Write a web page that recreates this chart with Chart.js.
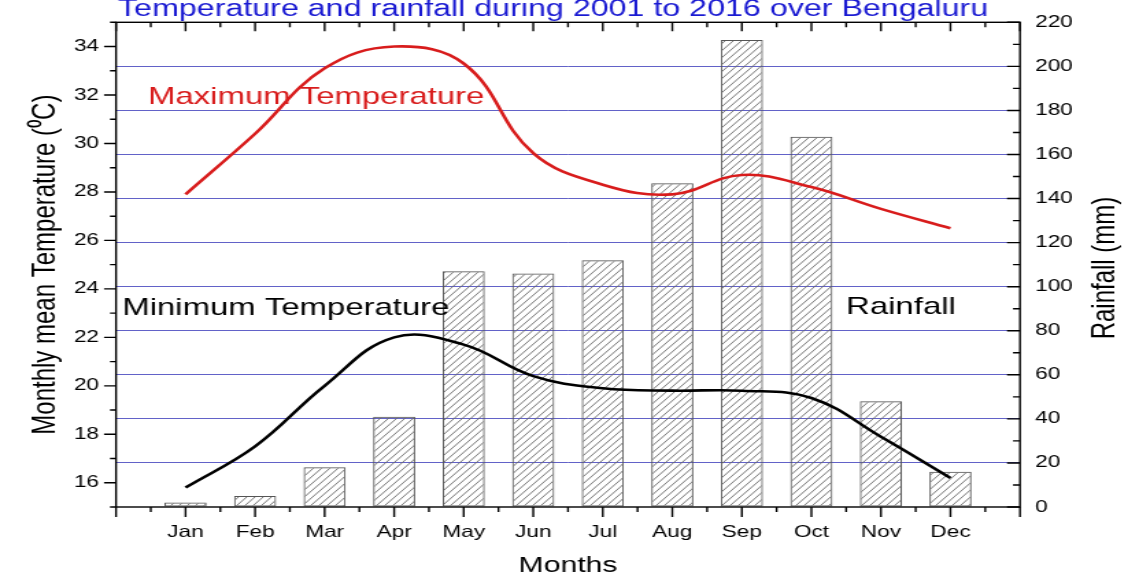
<!DOCTYPE html>
<html>
<head>
<meta charset="utf-8">
<script src="https://cdn.jsdelivr.net/npm/chart.js@4.4.1/dist/chart.umd.min.js"></script>
<style>
  html, body { margin: 0; padding: 0; background: #fff; }
</style>
</head>
<body>
<!-- the source figure is stretched sideways, so the chart is drawn narrow and CSS widens it -->
<canvas id="chart" width="823" height="579" style="width:1128px;height:579px;display:block"></canvas>
<script>
// monthly means 2001-2016
var months = ['Jan', 'Feb', 'Mar', 'Apr', 'May', 'Jun', 'Jul', 'Aug', 'Sep', 'Oct', 'Nov', 'Dec'];
var maxTemp = [27.9, 30.4, 33.1, 34.0, 33.3, 29.6, 28.3, 27.9, 28.7, 28.2, 27.3, 26.5];
var minTemp = [15.8, 17.5, 20.0, 22.0, 21.7, 20.4, 19.9, 19.8, 19.8, 19.5, 17.9, 16.2];
var rainfall = [2, 5, 18, 41, 107, 106, 112, 147, 212, 168, 48, 16];

var tempLabels = [16, 18, 20, 22, 24, 26, 28, 30, 32, 34];
var rainLabels = [0, 20, 40, 60, 80, 100, 120, 140, 160, 180, 200, 220];

var SX = 1128 / 823;   // horizontal stretch
var FONT = '"Liberation Sans", Arial, sans-serif';
var gridColor = 'rgba(70, 70, 190, 0.85)';

Chart.defaults.font.family = FONT;
Chart.defaults.color = '#000';

// diagonal hatch for the rainfall bars
function hatch() {
  var c = document.createElement('canvas');
  c.width = 6; c.height = 7;
  var g = c.getContext('2d');
  g.strokeStyle = '#6a6a6a';
  g.lineWidth = 0.9;
  g.beginPath();
  for (var k = -1; k <= 1; k++) {
    g.moveTo(k * 6, 7);
    g.lineTo(k * 6 + 6, 0);
  }
  g.stroke();
  return g.createPattern(c, 'repeat');
}

function pts(arr) {
  return arr.map(function(v, i) { return {x: i + 1, y: v}; });
}

// frame, ticks (major + minor) and the free texts
var frame = {
  id: 'frame',
  afterDatasetsDraw: function(chart) {
    var ctx = chart.ctx, a = chart.chartArea;
    var x = chart.scales.x, y = chart.scales.y, y2 = chart.scales.y2;
    var v, p;
    ctx.save();
    ctx.strokeStyle = '#000';
    ctx.lineWidth = 1.4;
    ctx.strokeRect(a.left, a.top, a.right - a.left, a.bottom - a.top);
    ctx.beginPath();
    for (v = 0; v <= 13; v += 0.5) {
      p = x.getPixelForValue(v);
      var big = v % 1 === 0;
      ctx.moveTo(p, a.bottom); ctx.lineTo(p, a.bottom + (big ? 10 : 5));
      ctx.moveTo(p, a.top); ctx.lineTo(p, a.top + (big ? 9 : 5));
    }
    for (v = 15; v <= 35; v++) {
      p = y.getPixelForValue(v);
      ctx.moveTo(a.left, p); ctx.lineTo(a.left - (v % 2 === 0 ? 12 : 6) / SX, p);
    }
    for (v = 0; v <= 220; v += 10) {
      p = y2.getPixelForValue(v);
      ctx.moveTo(a.right, p); ctx.lineTo(a.right - (v % 20 === 0 ? 13 : 7) / SX, p);
    }
    ctx.stroke();

    ctx.textBaseline = 'alphabetic';
    ctx.textAlign = 'left';
    ctx.font = '23.5px ' + FONT;
    ctx.fillStyle = '#1a1ad2';
    ctx.fillText('Temperature and rainfall during 2001 to 2016 over Bengaluru', 118 / SX, 16);

    ctx.font = '24px ' + FONT;
    ctx.fillStyle = '#d81c1c';
    ctx.fillText('Maximum Temperature', x.getPixelForValue(0.46), y.getPixelForValue(31.62));
    ctx.fillStyle = '#000';
    ctx.fillText('Minimum Temperature', x.getPixelForValue(0.09), y.getPixelForValue(22.92));
    ctx.fillText('Rainfall', x.getPixelForValue(10.5), y2.getPixelForValue(87.6));

    ctx.translate(1105 / SX, 268);
    ctx.rotate(-Math.PI / 2);
    ctx.textAlign = 'center';
    ctx.textBaseline = 'middle';
    ctx.fillText('Rainfall (mm)', 0, 0);
    ctx.restore();
  }
};

var ctx = document.getElementById('chart').getContext('2d');

new Chart(ctx, {
  type: 'bar',
  data: {
    datasets: [
      {
        type: 'line',
        label: 'Maximum Temperature',
        data: pts(maxTemp),
        yAxisID: 'y',
        borderColor: '#d81c1c',
        borderWidth: 2.6,
        pointRadius: 0,
        tension: 0.4,
        order: 0
      },
      {
        type: 'line',
        label: 'Minimum Temperature',
        data: pts(minTemp),
        yAxisID: 'y',
        borderColor: '#000',
        borderWidth: 2.6,
        pointRadius: 0,
        tension: 0.4,
        order: 0
      },
      {
        label: 'Rainfall',
        data: pts(rainfall),
        yAxisID: 'y2',
        backgroundColor: hatch(),
        borderColor: '#555',
        borderWidth: 1,
        borderSkipped: false,
        categoryPercentage: 1,
        barPercentage: 0.605,
        order: 1
      }
    ]
  },
  options: {
    responsive: false,
    devicePixelRatio: 1,
    animation: false,
    layout: { padding: { top: 22, left: 0, right: 0, bottom: 0 } },
    plugins: {
      legend: { display: false },
      tooltip: { enabled: false }
    },
    scales: {
      x: {
        type: 'linear',
        min: 0,
        max: 13,
        offset: false,
        grid: { display: false, drawTicks: false },
        border: { display: false },
        afterFit: function(s) { s.height = 72; },
        ticks: {
          stepSize: 1,
          autoSkip: false,
          maxRotation: 0,
          padding: 16,
          font: { size: 16.5 },
          callback: function(v) { return months[Math.round(v) - 1] || ''; }
        },
        title: {
          display: true,
          text: 'Months',
          font: { size: 22 },
          padding: { top: 0, bottom: 0 }
        }
      },
      y: {
        position: 'left',
        min: 15,
        max: 35,
        grid: { display: false, drawTicks: false },
        border: { display: false },
        afterFit: function(s) { s.width = 116 / SX; },
        ticks: {
          stepSize: 1,
          maxTicksLimit: 100,
          padding: 12.4,
          font: { size: 16.5 },
          callback: function(v) { return tempLabels.indexOf(v) >= 0 ? v : ''; }
        },
        title: {
          display: true,
          text: 'Monthly mean Temperature (\u2070C)',
          font: { size: 24 },
          padding: { top: 19, bottom: 0 }
        }
      },
      y2: {
        position: 'right',
        min: 0,
        max: 220,
        border: { display: false },
        afterFit: function(s) { s.width = 108 / SX; },
        grid: {
          drawTicks: false,
          lineWidth: 1,
          color: function(c) {
            var v = c.tick && c.tick.value;
            return (v % 20 === 0 && v > 0 && v < 220) ? gridColor : 'rgba(0,0,0,0)';
          }
        },
        ticks: {
          stepSize: 10,
          maxTicksLimit: 100,
          padding: 11,
          font: { size: 16.5 },
          callback: function(v) { return rainLabels.indexOf(v) >= 0 ? v : ''; }
        }
      }
    }
  },
  plugins: [frame]
});
</script>
</body>
</html>
